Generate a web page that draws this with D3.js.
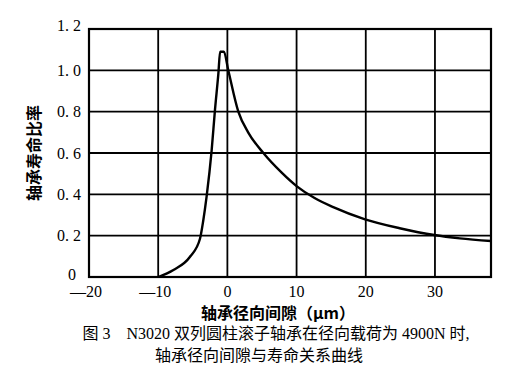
<!DOCTYPE html>
<html>
<head>
<meta charset="utf-8">
<script src="https://cdn.jsdelivr.net/npm/d3@7"></script>
<style>
  body { margin: 0; background: #fff; }
  svg text { fill: #000; }
</style>
</head>
<body>
<div id="chart"></div>
<script>
// clearance (um) vs. life ratio
const clearance = [-10, -7.8, -5.4, -3.96, -3.5, -3.0, -2.27, -1.79, -1.3, -1.05, -0.5, 0.13, 1.58, 3.0, 5.2, 7.85, 10, 12.6, 15.3, 19.9, 24.9, 29.9, 33.6, 38.1];
const lifeRatio = [0, 0.034, 0.098, 0.185, 0.27, 0.39, 0.614, 0.81, 0.985, 1.09, 1.09, 1.0, 0.8, 0.70, 0.6, 0.505, 0.44, 0.382, 0.338, 0.279, 0.236, 0.203, 0.187, 0.174];

const xTicks = [-20, -10, 0, 10, 20, 30];
const xTickLabels = ["\u201420", "\u201410", "0", "10", "20", "30"];
const yTicks = [0, 0.2, 0.4, 0.6, 0.8, 1.0, 1.2];
const yTickLabels = ["0", "0. 2", "0. 4", "0. 6", "0. 8", "1. 0", "1. 2"];

const xTitle = "轴承径向间隙（μm）";
const yTitle = "轴承寿命比率";
const caption1 = "图 3    N3020 双列圆柱滚子轴承在径向载荷为 4900N 时,";
const caption2 = "轴承径向间隙与寿命关系曲线";

const width = 530, height = 388;
const margin = { top: 29, right: 39, bottom: 111, left: 89 };

const svg = d3.select("#chart").append("svg")
  .attr("width", width)
  .attr("height", height);

const x = d3.scaleLinear()
  .domain([-20, 38.1])
  .range([margin.left, width - margin.right]);

const y = d3.scaleLinear()
  .domain([0, 1.2])
  .range([height - margin.bottom, margin.top]);

// grid lines
svg.append("g")
  .selectAll("line")
  .data(xTicks.slice(1))
  .join("line")
  .attr("x1", d => x(d)).attr("x2", d => x(d))
  .attr("y1", y(0)).attr("y2", y(1.2))
  .attr("stroke", "#000").attr("stroke-width", 1.8);

svg.append("g")
  .selectAll("line")
  .data(yTicks.slice(1, -1))
  .join("line")
  .attr("x1", x(-20)).attr("x2", x(38.1))
  .attr("y1", d => y(d)).attr("y2", d => y(d))
  .attr("stroke", "#000").attr("stroke-width", 1.8);

// frame
svg.append("rect")
  .attr("x", x(-20)).attr("y", y(1.2))
  .attr("width", x(38.1) - x(-20))
  .attr("height", y(0) - y(1.2))
  .attr("fill", "none")
  .attr("stroke", "#000")
  .attr("stroke-width", 2.2);

// y tick labels
svg.append("g")
  .selectAll("text")
  .data(yTicks)
  .join("text")
  .attr("x", (d, i) => i === 0 ? 72 : 81)
  .attr("y", d => y(d) - (d === 1.2 ? 4 : d === 0 ? 3 : 0))
  .attr("dy", "0.35em")
  .attr("text-anchor", (d, i) => i === 0 ? "middle" : "end")
  .attr("font-family", "Liberation Serif, serif")
  .attr("font-size", 16)
  .text((d, i) => yTickLabels[i]);

// x tick labels
svg.append("g")
  .selectAll("text")
  .data(xTicks)
  .join("text")
  .attr("x", d => x(d) - (d < 0 ? 3 : 0))
  .attr("y", y(0) + 20)
  .attr("text-anchor", "middle")
  .attr("font-family", "Liberation Serif, serif")
  .attr("font-size", 16)
  .text((d, i) => xTickLabels[i]);

// curve
const line = d3.line()
  .x((d, i) => x(clearance[i]))
  .y(d => y(d))
  .curve(d3.curveMonotoneX);

svg.append("path")
  .datum(lifeRatio)
  .attr("fill", "none")
  .attr("stroke", "#000")
  .attr("stroke-width", 2.4)
  .attr("d", line);

// axis titles
svg.append("text")
  .attr("x", 278).attr("y", 319)
  .attr("text-anchor", "middle")
  .attr("font-family", "Noto Sans CJK SC, sans-serif")
  .attr("font-weight", "bold")
  .attr("font-size", 16)
  .text(xTitle);

svg.append("text")
  .attr("transform", "translate(40,153) rotate(-90)")
  .attr("text-anchor", "middle")
  .attr("font-family", "Noto Sans CJK SC, sans-serif")
  .attr("font-weight", "bold")
  .attr("font-size", 16)
  .text(yTitle);

// caption
svg.append("text")
  .attr("x", 276).attr("y", 339)
  .attr("text-anchor", "middle")
  .attr("font-family", "Liberation Serif, Noto Sans CJK SC, serif")
  .attr("font-size", 16)
  .style("white-space", "pre")
  .text(caption1);

svg.append("text")
  .attr("x", 259).attr("y", 361)
  .attr("text-anchor", "middle")
  .attr("font-family", "Liberation Serif, Noto Sans CJK SC, serif")
  .attr("font-size", 16)
  .text(caption2);
</script>
</body>
</html>
